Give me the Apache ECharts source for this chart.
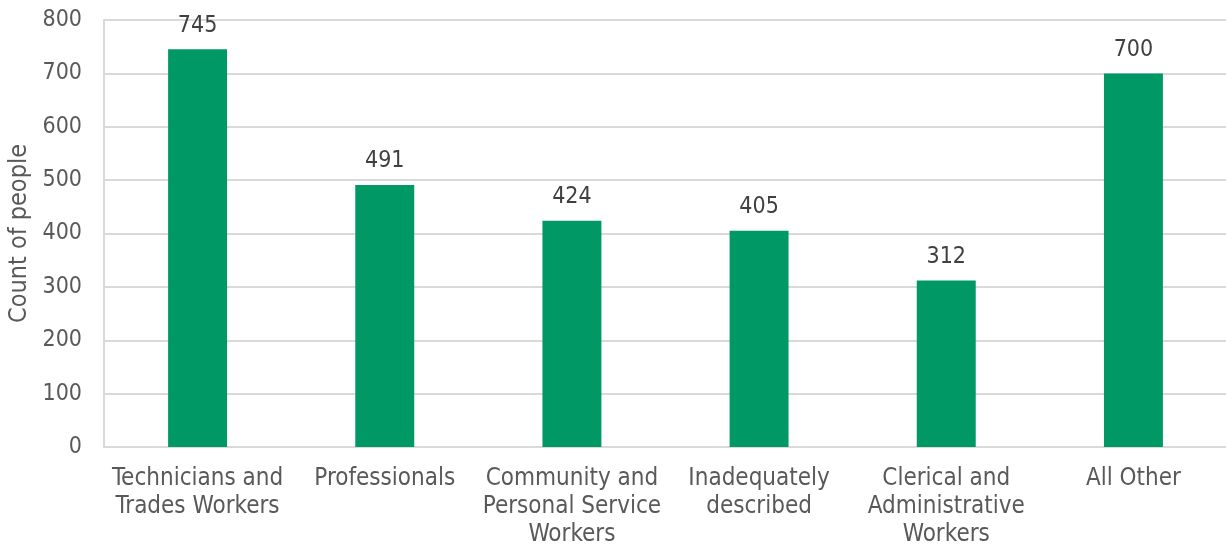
<!DOCTYPE html>
<html>
<head>
<meta charset="utf-8">
<script src="https://cdn.jsdelivr.net/npm/echarts@6/dist/echarts.min.js"></script>
<style>
  html, body { margin: 0; padding: 0; background: #fff; }
  #chart { width: 1226px; height: 545px; }
</style>
</head>
<body>
<div id="chart"></div>
<script>
var categories = ['Technicians and\nTrades Workers', 'Professionals', 'Community and\nPersonal Service\nWorkers', 'Inadequately\ndescribed', 'Clerical and\nAdministrative\nWorkers', 'All Other'];
var counts = [745, 491, 424, 405, 312, 700];

var font = 'DejaVu Sans Condensed';

var myChart = echarts.init(document.getElementById('chart'));
myChart.setOption({
    animation: false,
    grid: { left: 104, right: -1, top: 20, bottom: 98, outerBoundsMode: 'none', containLabel: false },
    xAxis: {
        type: 'category',
        data: categories,
        axisLine: { lineStyle: { color: '#d9d9d9', width: 2 } },
        axisTick: { show: false },
        axisLabel: {
            color: '#595959',
            fontFamily: font,
            fontSize: 24,
            lineHeight: 28,
            margin: 18,
            interval: 0
        }
    },
    yAxis: {
        type: 'value',
        min: 0,
        max: 800,
        interval: 100,
        name: 'Count of people',
        nameLocation: 'middle',
        nameGap: 67,
        nameTextStyle: { color: '#595959', fontFamily: font, fontSize: 25 },
        axisLine: { show: true, lineStyle: { color: '#d9d9d9', width: 2 } },
        axisTick: { show: false },
        axisLabel: { color: '#595959', fontFamily: font, fontSize: 23, margin: 22 },
        splitLine: { lineStyle: { color: '#d9d9d9', width: 2 } }
    },
    series: [{
        name: 'Count of people',
        type: 'bar',
        data: counts,
        barWidth: '31.5%',
        itemStyle: { color: '#009966' },
        label: {
            show: true,
            position: 'top',
            distance: 12,
            color: '#404040',
            fontFamily: font,
            fontSize: 23
        }
    }]
});
</script>
</body>
</html>
